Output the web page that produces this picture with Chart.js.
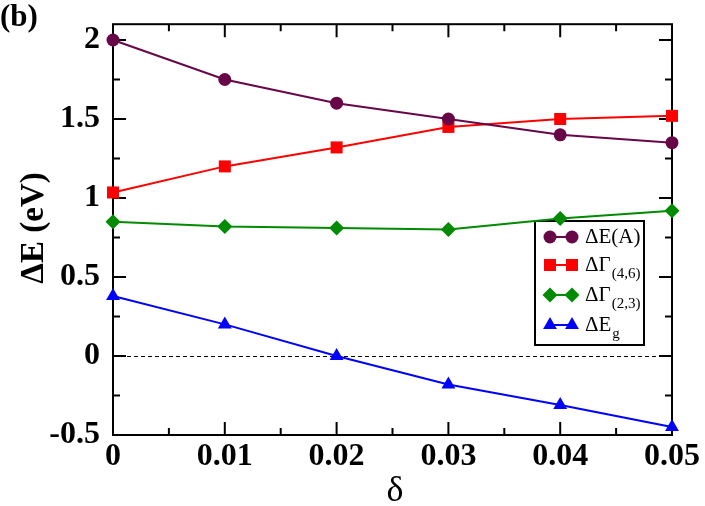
<!DOCTYPE html>
<html>
<head>
<meta charset="utf-8">
<script src="https://cdn.jsdelivr.net/npm/chart.js@4.4.1/dist/chart.umd.min.js"></script>
<style>
  html, body { margin: 0; padding: 0; background: #fff; }
  #wrap { width: 705px; height: 506px; position: relative; }
  .probe { position: absolute; left: -999px; top: 0; font-family: "Liberation Serif", "Times New Roman", serif; }
</style>
</head>
<body>
<span class="probe">a</span><span class="probe" style="font-weight:bold">a</span>
<div id="wrap"><canvas id="chart"></canvas></div>
<script>
// values
const deltas = [0, 0.01, 0.02, 0.03, 0.04, 0.05];
const dEA    = [2.00, 1.75, 1.60, 1.50, 1.40, 1.35];
const dG46   = [1.035, 1.20, 1.32, 1.45, 1.50, 1.52];
const dG23   = [0.85, 0.82, 0.81, 0.80, 0.87, 0.92];
const dEg    = [0.38, 0.20, 0.00, -0.18, -0.31, -0.45];

const xTicks      = [0, 0.01, 0.02, 0.03, 0.04, 0.05];
const xTickLabels = ['0', '0.01', '0.02', '0.03', '0.04', '0.05'];
const yTicks      = [-0.5, 0, 0.5, 1, 1.5, 2];
const yTickLabels = ['-0.5', '0', '0.5', '1', '1.5', '2'];

const legendMain = ['\u0394E(A)', '\u0394\u0393', '\u0394\u0393', '\u0394E'];
const legendSub  = ['', '(4,6)', '(2,3)', 'g'];

const SERIF = '"Liberation Serif", "Times New Roman", "DejaVu Serif", serif';

function pts(ys) {
  return deltas.map((d, i) => ({ x: d, y: ys[i] }));
}

const series = [
  { data: dEA,  color: 'rgb(103,7,72)', style: 'circle',   r: 6.5 },
  { data: dG46, color: 'rgb(255,0,0)',  style: 'rect',     r: 8.5 },
  { data: dG23, color: 'rgb(0,139,0)',  style: 'rectRot',  r: 7.5 },
  { data: dEg,  color: 'rgb(0,0,255)',  style: 'triangle', r: 8 }
];

function marker(ctx, style, r, x, y, color) {
  ctx.save();
  ctx.fillStyle = color;
  ctx.beginPath();
  if (style === 'circle') {
    ctx.arc(x, y, r, 0, Math.PI * 2);
  } else if (style === 'rect') {
    const s = r * Math.SQRT1_2;
    ctx.rect(x - s, y - s, 2 * s, 2 * s);
  } else if (style === 'rectRot') {
    ctx.moveTo(x, y - r); ctx.lineTo(x + r, y); ctx.lineTo(x, y + r); ctx.lineTo(x - r, y);
  } else {
    ctx.moveTo(x, y - r);
    ctx.lineTo(x + r * 0.866, y + r * 0.5);
    ctx.lineTo(x - r * 0.866, y + r * 0.5);
  }
  ctx.closePath();
  ctx.fill();
  ctx.restore();
}

const decor = {
  id: 'decor',
  beforeDatasetsDraw(chart) {
    const { ctx, chartArea: a, scales: { x, y } } = chart;
    ctx.save();

    // dashed zero line
    ctx.strokeStyle = '#000';
    ctx.lineWidth = 1;
    ctx.setLineDash([4, 3]);
    const y0 = Math.round(y.getPixelForValue(0)) + 0.5;
    ctx.beginPath(); ctx.moveTo(a.left, y0); ctx.lineTo(a.right, y0); ctx.stroke();
    ctx.setLineDash([]);

    // frame
    ctx.lineWidth = 2;
    ctx.strokeRect(a.left, a.top, a.right - a.left, a.bottom - a.top);

    // inward ticks on all four sides
    const major = 13, minor = 7;
    const tickX = (v, len) => {
      const px = x.getPixelForValue(v);
      ctx.beginPath();
      ctx.moveTo(px, a.bottom); ctx.lineTo(px, a.bottom - len);
      ctx.moveTo(px, a.top); ctx.lineTo(px, a.top + len);
      ctx.stroke();
    };
    const tickY = (v, len) => {
      const py = y.getPixelForValue(v);
      ctx.beginPath();
      ctx.moveTo(a.left, py); ctx.lineTo(a.left + len, py);
      ctx.moveTo(a.right, py); ctx.lineTo(a.right - len, py);
      ctx.stroke();
    };
    xTicks.forEach((v, i) => {
      tickX(v, major);
      if (i < xTicks.length - 1) tickX((v + xTicks[i + 1]) / 2, minor);
    });
    yTicks.forEach((v, i) => {
      tickY(v, major);
      if (i < yTicks.length - 1) tickY((v + yTicks[i + 1]) / 2, minor);
    });

    // legend
    const bx = 535, by = 221, bw = 109, bh = 124;
    ctx.fillStyle = '#fff';
    ctx.fillRect(bx, by, bw, bh);
    ctx.strokeStyle = '#000';
    ctx.lineWidth = 2;
    ctx.strokeRect(bx, by, bw, bh);
    const rows = [237, 265, 295, 325];
    series.forEach((s, i) => {
      const ry = rows[i];
      ctx.strokeStyle = s.color;
      ctx.lineWidth = 2;
      ctx.beginPath(); ctx.moveTo(550, ry); ctx.lineTo(572, ry); ctx.stroke();
      marker(ctx, s.style, s.r, 550, ry, s.color);
      marker(ctx, s.style, s.r, 572, ry, s.color);
      ctx.fillStyle = '#000';
      ctx.textBaseline = 'middle';
      ctx.textAlign = 'left';
      ctx.font = '21px ' + SERIF;
      ctx.fillText(legendMain[i], 585, ry);
      if (legendSub[i]) {
        const w = ctx.measureText(legendMain[i]).width;
        ctx.font = '15px ' + SERIF;
        ctx.fillText(legendSub[i], 585 + w + 1, ry + 9);
      }
    });

    // titles
    ctx.fillStyle = '#000';
    ctx.textAlign = 'center';
    ctx.textBaseline = 'middle';
    ctx.font = '36px ' + SERIF;
    ctx.fillText('\u03B4', 395, 492);
    ctx.save();
    ctx.translate(34, 228);
    ctx.rotate(-Math.PI / 2);
    ctx.font = 'bold 33px ' + SERIF;
    ctx.fillText('\u0394E (eV)', 0, 0);
    ctx.restore();
    ctx.textAlign = 'left';
    ctx.textBaseline = 'top';
    ctx.font = 'bold 31px ' + SERIF;
    ctx.fillText('(b)', 0, 2);

    ctx.restore();
  }
};

function build() {
  new Chart(document.getElementById('chart'), {
    type: 'scatter',
    data: {
      datasets: series.map(s => ({
        data: pts(s.data),
        showLine: true,
        borderColor: s.color,
        backgroundColor: s.color,
        borderWidth: 2,
        pointStyle: s.style,
        pointRadius: s.r,
        pointBorderWidth: 0,
        pointBackgroundColor: s.color,
        clip: false
      }))
    },
    options: {
      responsive: true,
      maintainAspectRatio: false,
      animation: false,
      layout: { padding: { left: 0, right: 33, top: 19, bottom: 0 } },
      plugins: { legend: { display: false }, tooltip: { enabled: false } },
      scales: {
        x: {
          type: 'linear', min: 0, max: 0.05,
          grid: { display: false },
          border: { display: false },
          afterBuildTicks: sc => { sc.ticks = xTicks.map(v => ({ value: v })); },
          afterFit: sc => { sc.height = 71; },
          ticks: {
            padding: -5,
            color: '#000',
            font: { family: SERIF, size: 32, weight: 'bold' },
            maxRotation: 0,
            autoSkip: false,
            callback: (v, i) => xTickLabels[i]
          }
        },
        y: {
          type: 'linear', min: -0.5, max: 2.1,
          grid: { display: false },
          border: { display: false },
          afterBuildTicks: sc => { sc.ticks = yTicks.map(v => ({ value: v })); },
          afterFit: sc => { sc.width = 113; },
          ticks: {
            padding: 5,
            color: '#000',
            font: { family: SERIF, size: 32, weight: 'bold' },
            autoSkip: false,
            callback: (v, i) => yTickLabels[i]
          }
        }
      }
    },
    plugins: [decor]
  });
}

Promise.all([
  document.fonts.load('30px "Liberation Serif"'),
  document.fonts.load('bold 30px "Liberation Serif"')
]).then(build, build);
</script>
</body>
</html>
